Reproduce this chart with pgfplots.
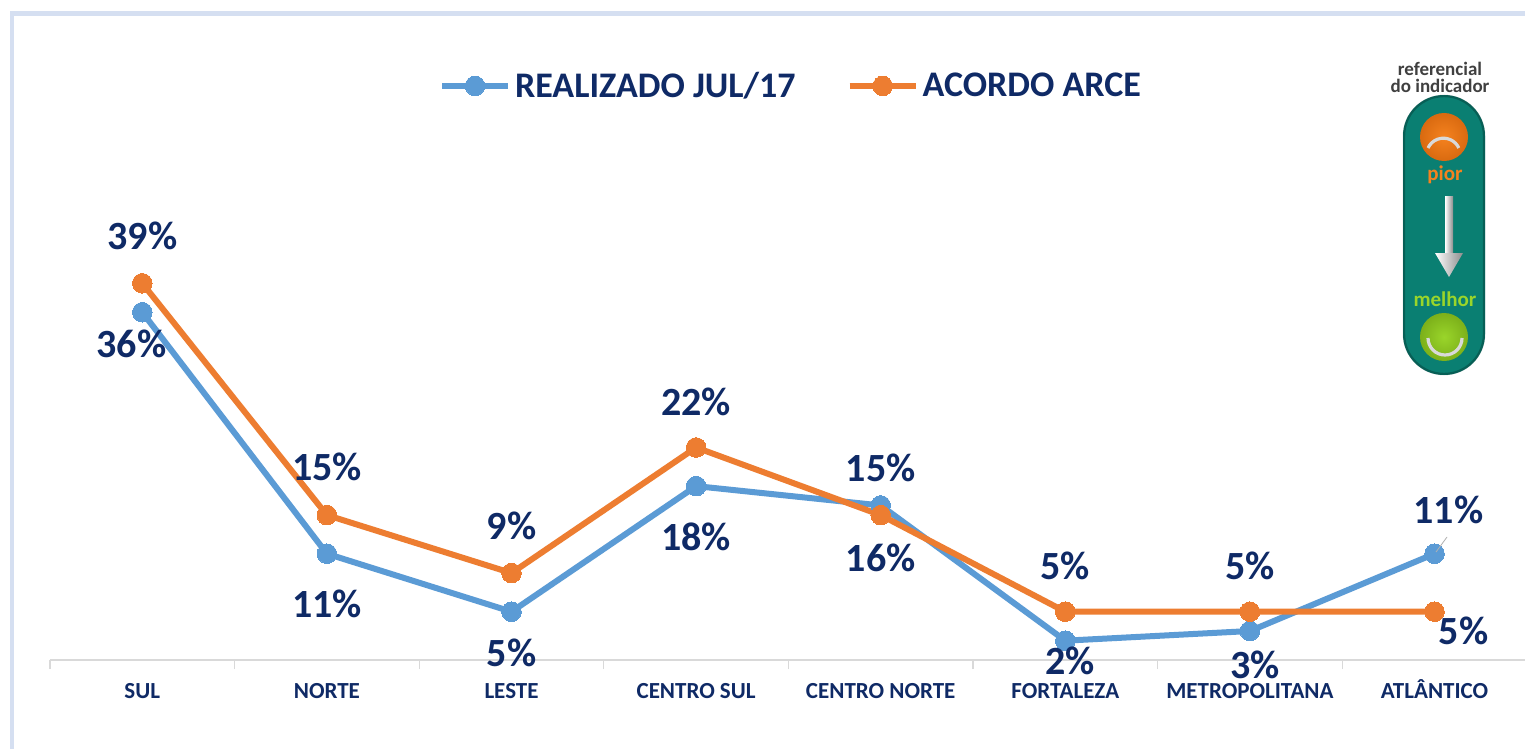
\documentclass[border=0pt]{standalone}
\usepackage{fontspec}
\setmainfont{Carlito}
\usepackage{pgfplots}
\usepackage{pgfplotstable}
\pgfplotsset{compat=1.18}
\definecolor{navy}{HTML}{0F2A66}
\definecolor{sblue}{HTML}{5B9BD5}
\definecolor{sorange}{HTML}{ED7D31}
\definecolor{frame}{HTML}{D5DFF1}
\definecolor{teal1}{HTML}{0A7F72}
\definecolor{orin}{HTML}{F5821F}
\definecolor{orout}{HTML}{D96A10}
\definecolor{grin}{HTML}{9AD52A}
\definecolor{grout}{HTML}{7CB01A}
\pgfplotstableread{
i v dx dy
0 36 -11 -32
1 11 0 -50
2 5 0 -41
3 18 0 -51
4 16 0 -52
5 2 5 -20
6 3 5 -34
7 11 14 44
}\realizado
\pgfplotstableread{
i v dx dy
0 39 0 47
1 15 0 48
2 9 0 47
3 22 0 46
4 15 0 47
5 5 0 46
6 5 0 46
7 5 29 -19
}\acordo
\pgfplotsset{lab/.style={
  point meta=y,
  visualization depends on={\thisrow{dx} \as \ldx},
  visualization depends on={\thisrow{dy} \as \ldy},
  nodes near coords={\pgfmathprintnumber[fixed,precision=0,assume math mode=true]{\pgfplotspointmeta}\%},
  every node near coord/.append style={anchor=center,font=\fontsize{20}{20}\selectfont\bfseries,text=navy,
     xshift=0.5pt*\ldx,yshift=0.5pt*\ldy,inner sep=0pt}
}}
\begin{document}
\begin{tikzpicture}
\begin{scope}[x=0.5pt,y=-0.5pt]
\fill[white] (0,0) rectangle (1525,749);
\fill[frame] (10,11) rectangle (1525,16);
\fill[frame] (10,11) rectangle (14,749);
\end{scope}
\begin{axis}[
  at={(25pt,-330pt)},anchor=south west,
  scale only axis,
  x=92.3pt,y=4.83pt,
  xmin=-0.5,xmax=7.49,ymin=0,ymax=66,
  axis y line=none,
  axis x line=bottom,
  axis line style={draw=black!15,line width=0.8pt,-},
  xtick={0,...,7},
  xticklabels={SUL,NORTE,LESTE,CENTRO SUL,CENTRO NORTE,FORTALEZA,METROPOLITANA,ATLÂNTICO},
  major tick length=0pt,
  minor xtick={-0.5,0.5,...,6.5},
  minor tick length=4.5pt,
  tick align=outside,
  minor tick style={draw=black!15,line width=0.6pt},
  xticklabel style={font=\fontsize{11.5}{11.5}\selectfont\bfseries,text=navy,yshift=-15.2pt,anchor=center,inner sep=0pt,text height=8pt,text depth=0pt},
  clip=false,
  legend columns=2,
  legend cell align=left,
  legend style={at={(rel axis cs:0.2635,0.9005)},anchor=west,draw=none,fill=none,inner sep=0pt,
    font=\fontsize{18}{18}\selectfont\bfseries,text=navy,
    /tikz/every even column/.style={column sep=23.5pt}},
  legend image code/.code={
    \draw[mark repeat=2,mark phase=2,#1] plot coordinates {(0pt,0pt)(16.5pt,0pt)(33pt,0pt)};
  },
]
\addplot[sblue,line width=3pt,mark=*,mark size=4.9pt,mark options={solid,fill=sblue,draw=sblue,line width=0pt},lab]
  table[x=i,y=v]{\realizado};
\addlegendentry{REALIZADO JUL/17}
\addplot[sorange,line width=3pt,mark=*,mark size=4.9pt,mark options={solid,fill=sorange,draw=sorange,line width=0pt},lab]
  table[x=i,y=v]{\acordo};
\addlegendentry{ACORDO ARCE}
\end{axis}
\begin{scope}[x=0.5pt,y=-0.5pt]
\draw[black!30,line width=0.4pt] (1436,552) -- (1447,537);
% indicator
\fill[teal1,rounded corners=20.5pt] (1403,95) rectangle (1485,375);
\draw[black!70!teal1,opacity=.35,line width=1.2pt,rounded corners=20pt] (1404,96) rectangle (1484,374);
\shade[inner color=orin,outer color=orout] (1444,137) circle (24);
\draw[white!85!black,line width=1.6pt] (1428,148) arc[start angle=205,end angle=335,radius=17];
\node[text=orin,font=\fontsize{10.5}{10.5}\selectfont\bfseries] at (1445,175) {pior};
\shade[left color=white,right color=black!45] (1445,196) rectangle (1453,254);
\shade[left color=white,right color=black!45] (1435,253) -- (1463,253) -- (1449,277) -- cycle;
\node[text=grin,font=\fontsize{10.5}{10.5}\selectfont\bfseries] at (1445,299) {melhor};
\shade[inner color=grin,outer color=grout] (1444,337) circle (24);
\draw[white!85!black,line width=1.6pt] (1428,338) arc[start angle=180,end angle=0,radius=17];
\node[text=black!75,font=\fontsize{9.5}{8.5}\selectfont\bfseries,align=center,inner sep=0pt] at (1440,77) {referencial\\do indicador};
\pgfresetboundingbox
\path[use as bounding box] (0,0) rectangle (1525,749);
\end{scope}
\end{tikzpicture}
\end{document}
